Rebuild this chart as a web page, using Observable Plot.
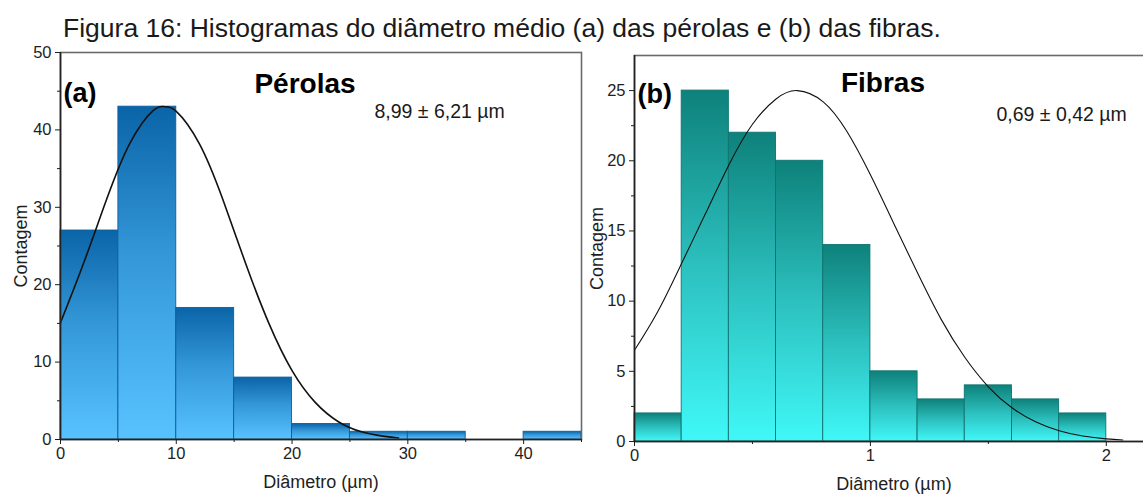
<!DOCTYPE html>
<html><head><meta charset="utf-8">
<script src="https://cdn.jsdelivr.net/npm/d3@7"></script>
<script src="https://cdn.jsdelivr.net/npm/@observablehq/plot@0.6"></script>
<style>
html,body{margin:0;padding:0}
body{width:1143px;height:494px;position:relative;background:#fff;font-family:"Liberation Sans",Arial,sans-serif;overflow:hidden}
#cap{position:absolute;left:63px;top:12px;font-size:26.5px;color:#1a1a1a;white-space:nowrap;line-height:32px}
#pa{position:absolute;left:0;top:40px;width:590px}
#pb{position:absolute;left:590px;top:40px;width:575px}
#pa svg,#pb svg{max-width:none !important}
</style></head><body>
<svg width="0" height="0" style="position:absolute">
<defs>
<linearGradient id="gBlue" x1="0" y1="0" x2="0" y2="1">
<stop offset="0" stop-color="#0a64a8"/><stop offset="0.45" stop-color="#3498d8"/><stop offset="1" stop-color="#58c2ff"/>
</linearGradient>
<linearGradient id="gTeal" x1="0" y1="0" x2="0" y2="1">
<stop offset="0" stop-color="#0e817b"/><stop offset="0.5" stop-color="#2cc0be"/><stop offset="1" stop-color="#40f8f8"/>
</linearGradient>
</defs></svg>
<div id="cap">Figura 16: Histogramas do diâmetro médio (a) das pérolas e (b) das fibras.</div>
<div id="pa"></div><div id="pb"></div>
<script>
// (a) Pérolas
const perolasStart = [0, 5, 10, 15, 20, 25, 30, 35, 40];
const perolasEnd   = [5, 10, 15, 20, 25, 30, 35, 40, 45];
const perolasCount = [27, 43, 17, 8, 2, 1, 1, 0, 1];
const perolasFitX = [0, 2, 4, 6, 8, 9, 10, 12, 14, 16, 18, 20, 22, 24, 26, 28, 29.2];
const perolasFitY = [15.1, 22.8, 31.1, 38.3, 42.5, 43.0, 42.4, 38.2, 31.1, 22.7, 15.0, 8.9, 4.8, 2.3, 1.0, 0.4, 0.2];
const perolasXTicks = [0, 10, 20, 30, 40];
const perolasXMinor = [5, 15, 25, 35, 45];
const perolasYTicks = [0, 10, 20, 30, 40, 50];
const perolasYMinor = [5, 15, 25, 35, 45];
const perolasXDomain = [0, 45];
const perolasYDomain = [0, 50];
const perolasTitle = "Pérolas";
const perolasTag = "(a)";
const perolasStat = "8,99 ± 6,21 µm";

// (b) Fibras
const fibrasStart = [0, 0.2, 0.4, 0.6, 0.8, 1.0, 1.2, 1.4, 1.6, 1.8];
const fibrasEnd   = [0.2, 0.4, 0.6, 0.8, 1.0, 1.2, 1.4, 1.6, 1.8, 2.0];
const fibrasCount = [2, 25, 22, 20, 14, 5, 3, 4, 3, 2];
const fibrasFitX = [0, 0.1, 0.2, 0.3, 0.4, 0.5, 0.6, 0.69, 0.8, 0.9, 1.0, 1.1, 1.2, 1.3, 1.4, 1.5, 1.6, 1.7, 1.8, 1.9, 2.0, 2.07];
const fibrasFitY = [6.5, 9.3, 12.7, 16.2, 19.7, 22.6, 24.4, 25.0, 24.2, 22.1, 19.0, 15.5, 12.0, 8.7, 6.0, 3.9, 2.4, 1.4, 0.76, 0.39, 0.19, 0.11];
const fibrasXTicks = [0, 1, 2];
const fibrasXMinor = [0.5, 1.5];
const fibrasYTicks = [0, 5, 10, 15, 20, 25];
const fibrasYMinor = [2.5, 7.5, 12.5, 17.5, 22.5];
const fibrasXDomain = [0, 2.2];
const fibrasYDomain = [0, 27.5];
const fibrasTitle = "Fibras";
const fibrasTag = "(b)";
const fibrasStat = "0,69 ± 0,42 µm";

const xLabel = "Diâmetro (µm)";
const yLabel = "Contagem";

const bars = (s, e, c) => s.map((v, i) => ({start: v, end: e[i], count: c[i]})).filter(d => d.count > 0);
const pts = (xs, ys) => xs.map((v, i) => ({x: v, y: ys[i]}));
const fmt = d => String(d);

function panel(o) {
  const svg = Plot.plot({
    width: o.width, height: 454,
    marginLeft: o.ml, marginRight: o.mr, marginTop: o.mt, marginBottom: o.mb,
    style: {fontFamily: "Liberation Sans, Arial, sans-serif", fontSize: "16px", color: "#1e1e1e", background: "transparent", overflow: "visible"},
    x: {domain: o.xDomain},
    y: {domain: o.yDomain},
    marks: [
      Plot.rectY(bars(o.start, o.end, o.count), {x1: "start", x2: "end", y: "count", fill: o.fill, stroke: o.barStroke, strokeWidth: 0.9}),
      Plot.line(pts(o.fitX, o.fitY), {x: "x", y: "y", stroke: "#111", strokeWidth: o.lw, curve: "natural"}),
      Plot.frame({stroke: "#6a6a6a", strokeWidth: 1.6}),
      Plot.ruleY([o.yDomain[0]], {stroke: "#222", strokeWidth: 1.6}),
      Plot.ruleX([o.xDomain[0]], {stroke: "#222", strokeWidth: 1.6}),
      Plot.axisX({ticks: o.xTicks, tickSize: 5, tickPadding: 3, fontSize: 16.5, tickFormat: fmt, label: xLabel, labelAnchor: "center", labelOffset: o.xlo, labelArrow: "none"}),
      Plot.axisX({ticks: o.xMinor, tickSize: 3, tickFormat: () => "", label: null}),
      Plot.axisY({ticks: o.yTicks, tickSize: 5, tickPadding: o.ytp, fontSize: 16.5, tickFormat: fmt, label: yLabel, labelAnchor: "center", labelOffset: o.ylo, labelArrow: "none"}),
      Plot.axisY({ticks: o.yMinor, tickSize: 3, tickFormat: () => "", label: null}),
      Plot.text([o.tag], {frameAnchor: "top-left", textAnchor: "start", dx: o.tagDx, dy: o.tagDy, fontSize: 27, fontWeight: "bold", fill: "#000"}),
      Plot.text([o.title], {frameAnchor: "top", dx: o.titleDx, dy: o.titleDy, fontSize: 28, fontWeight: "bold", fill: "#000"}),
      Plot.text([o.stat], {frameAnchor: "top-left", textAnchor: "start", dx: o.statDx, dy: o.statDy, fontSize: 19.5, fill: "#1a1a1a"})
    ]
  });
  svg.querySelectorAll('g[aria-label$="axis label"] text').forEach(t => {
    t.setAttribute("font-size", "18");
    t.style.fontSize = "18px";
    t.textContent = t.textContent.replace(/[↑↓←→]/g, "").trim();
  });
  return svg;
}

document.getElementById("pa").append(panel({
  width: 590, ml: 60, mr: 9, mt: 12, mb: 55,
  xDomain: perolasXDomain, yDomain: perolasYDomain,
  start: perolasStart, end: perolasEnd, count: perolasCount,
  fitX: perolasFitX, fitY: perolasFitY, lw: 1.6,
  fill: "url(#gBlue)", barStroke: "#0f5e9c",
  xTicks: perolasXTicks, xMinor: perolasXMinor, yTicks: perolasYTicks, yMinor: perolasYMinor,
  xlo: 48, ylo: 46, ytp: 4,
  tag: perolasTag, tagDx: 3, tagDy: 30,
  title: perolasTitle, titleDx: -16, titleDy: 21,
  stat: perolasStat, statDx: 314, statDy: 52
}));

document.getElementById("pb").append(panel({
  width: 575, ml: 44, mr: 12, mt: 15, mb: 53,
  xDomain: fibrasXDomain, yDomain: fibrasYDomain,
  start: fibrasStart, end: fibrasEnd, count: fibrasCount,
  fitX: fibrasFitX, fitY: fibrasFitY, lw: 1.1,
  fill: "url(#gTeal)", barStroke: "#0f7470",
  xTicks: fibrasXTicks, xMinor: fibrasXMinor, yTicks: fibrasYTicks, yMinor: fibrasYMinor,
  xlo: 48, ylo: 44, ytp: 4,
  tag: fibrasTag, tagDx: 3, tagDy: 28,
  title: fibrasTitle, titleDx: -11, titleDy: 17,
  stat: fibrasStat, statDx: 362, statDy: 52
}));
</script>
</body></html>
